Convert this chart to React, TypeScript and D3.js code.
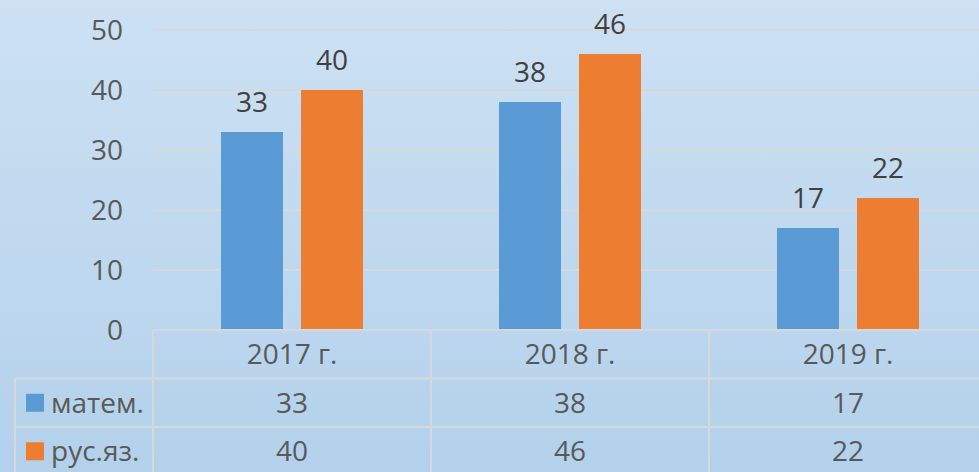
import React from "react";
import * as d3 from "d3";

const categories = ["2017 г.", "2018 г.", "2019 г."];
const seriesNames = ["матем.", "рус.яз."];
const matem = [33, 38, 17];
const rusyaz = [40, 46, 22];
const yTicks = [0, 10, 20, 30, 40, 50];
const colors = ["#5b9bd5", "#ed7d31"];

const W = 979;
const H = 472;
const FONT = "'Open Sans', sans-serif";
const FS = 28;

export default function App() {
  const seriesValues = [matem, rusyaz];
  const plotLeft = 153;
  const plotRight = 987;
  const y = d3.scaleLinear().domain([0, 50]).range([330, 30]);
  const x = d3.scaleBand<string>().domain(categories).range([plotLeft, plotRight]);
  const xs = d3
    .scaleBand<string>()
    .domain(seriesNames)
    .range([0, x.bandwidth()])
    .paddingInner(0.225)
    .paddingOuter(0.85);

  const tableTop = 330;
  const rowH = 48.5;
  const legendLeft = 15;
  const lineColor = "#d6d9dc";

  return (
    <svg
      width={W}
      height={H}
      style={{ position: "absolute", left: 0, top: 0, display: "block" }}
      fontFamily={FONT}
    >
      <defs>
        <linearGradient id="bg" x1="0" y1="0" x2="0" y2="1">
          <stop offset="0" stopColor="#cde1f3" />
          <stop offset="1" stopColor="#b3d1eb" />
        </linearGradient>
      </defs>
      <rect x={0} y={0} width={W} height={H} fill="url(#bg)" />

      {/* gridlines */}
      {yTicks.slice(1).map((t) => (
        <line
          key={t}
          x1={plotLeft}
          x2={W}
          y1={y(t)}
          y2={y(t)}
          stroke={lineColor}
          strokeWidth={2}
        />
      ))}
      {/* y tick labels */}
      {yTicks.map((t) => (
        <text
          key={t}
          x={123}
          y={y(t)}
          dy="0.36em"
          textAnchor="end"
          fontSize={FS}
          fill="#595959"
        >
          {t}
        </text>
      ))}

      {/* bars */}
      {categories.map((c, ci) =>
        seriesNames.map((s, si) => {
          const v = seriesValues[si][ci];
          const bx = (x(c) as number) + (xs(s) as number);
          return (
            <g key={c + s}>
              <rect
                x={bx}
                y={y(v)}
                width={xs.bandwidth()}
                height={y(0) - y(v)}
                fill={colors[si]}
              />
              <text
                x={bx + xs.bandwidth() / 2}
                y={y(v) - 20}
                textAnchor="middle"
                fontSize={FS}
                fill="#404040"
              >
                {v}
              </text>
            </g>
          );
        })
      )}

      {/* data table */}
      <line x1={plotLeft} x2={W} y1={tableTop} y2={tableTop} stroke={lineColor} strokeWidth={2} />
      {[1, 2].map((r) => (
        <line
          key={r}
          x1={legendLeft}
          x2={W}
          y1={tableTop + r * rowH}
          y2={tableTop + r * rowH}
          stroke={lineColor}
          strokeWidth={2}
        />
      ))}
      <line x1={legendLeft} x2={legendLeft} y1={tableTop + rowH} y2={H} stroke={lineColor} strokeWidth={2} />
      {categories.map((c) => (
        <line
          key={c}
          x1={x(c) as number}
          x2={x(c) as number}
          y1={tableTop}
          y2={H}
          stroke={lineColor}
          strokeWidth={2}
        />
      ))}
      {categories.map((c) => (
        <text
          key={c}
          x={(x(c) as number) + x.bandwidth() / 2}
          y={tableTop + rowH / 2}
          dy="0.36em"
          textAnchor="middle"
          fontSize={FS}
          fill="#595959"
        >
          {c}
        </text>
      ))}
      {seriesNames.map((s, si) => {
        const rowMid = tableTop + (si + 1) * rowH + rowH / 2;
        return (
          <g key={s}>
            <rect x={26} y={rowMid - 9} width={18} height={18} fill={colors[si]} />
            <text x={51} y={rowMid} dy="0.36em" fontSize={FS} fill="#595959">
              {s}
            </text>
            {categories.map((c, ci) => (
              <text
                key={c}
                x={(x(c) as number) + x.bandwidth() / 2}
                y={rowMid}
                dy="0.36em"
                textAnchor="middle"
                fontSize={FS}
                fill="#595959"
              >
                {seriesValues[si][ci]}
              </text>
            ))}
          </g>
        );
      })}
    </svg>
  );
}
